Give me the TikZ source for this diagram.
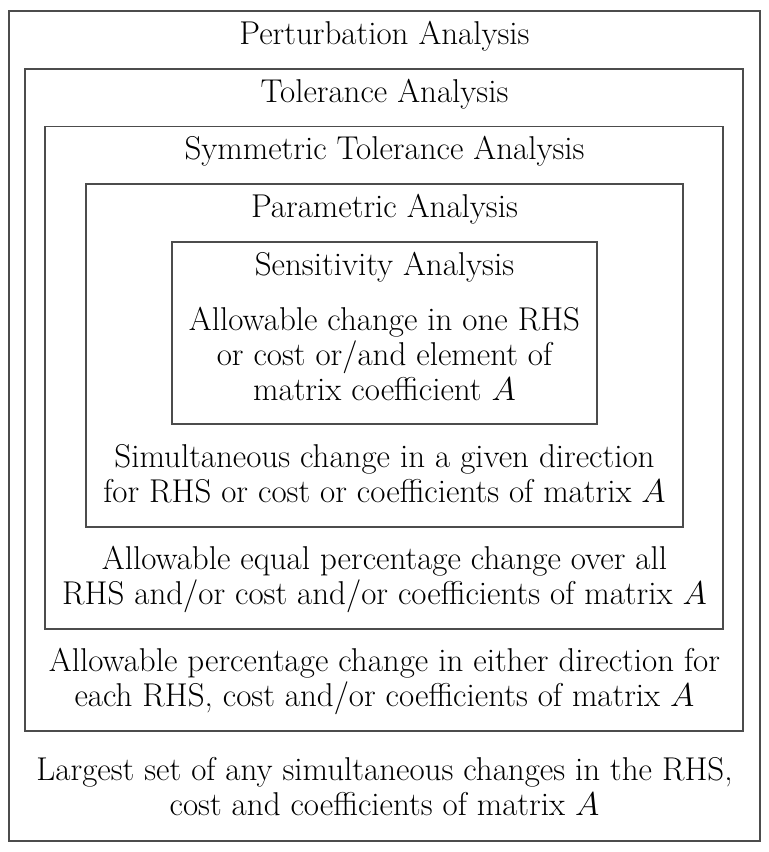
\RequirePackage{fix-cm}
\documentclass[tikz,border=0pt]{standalone}
\usepackage{fontspec}
\usepackage{tikz}
\tikzset{
  frame/.style={draw=black!70, line width=0.6pt},
  head/.style={font=\fontsize{16.5}{17.5}\selectfont, anchor=base, inner sep=0pt},
  body/.style={font=\fontsize{16.5}{17.5}\selectfont, align=center, anchor=base, inner sep=0pt},
}
\begin{document}
\begin{tikzpicture}[x=0.5pt, y=-0.5pt]
  \useasboundingbox (0,0) rectangle (769,852);
  %% nested frames, outermost first
  \draw[frame] (9,11)    rectangle (760,841);
  \draw[frame] (25,69)   rectangle (743,731);
  \draw[frame] (45,126.5) rectangle (723,629);
  \draw[frame] (86,184)  rectangle (683,527);
  \draw[frame] (172,242) rectangle (597,424);
  %% titles
  \node[head] (pert) at (384.5,44)  {Perturbation Analysis};
  \node[head] (tol)  at (384.5,102) {Tolerance Analysis};
  \node[head] (sym)  at (384.5,159.5) {Symmetric Tolerance Analysis};
  \node[head] (par)  at (384.5,217) {Parametric Analysis};
  \node[head] (sens) at (384.5,275.5) {Sensitivity Analysis};
  %% descriptions (anchored at the last line)
  \node[body] (sensd) at (384.5,400) {Allowable change in one RHS\\or cost or/and element of\\matrix coefficient $A$};
  \node[body] (pard)  at (384.5,502) {Simultaneous change in a given direction\\for RHS or cost or coefficients of matrix $A$};
  \node[body] (symd)  at (384.5,604) {Allowable equal percentage change over all\\RHS and/or cost and/or coefficients of matrix $A$};
  \node[body] (told)  at (384.5,706) {Allowable percentage change in either direction for\\each RHS, cost and/or coefficients of matrix $A$};
  \node[body] (pertd) at (384.5,815) {Largest set of any simultaneous changes in the RHS,\\cost and coefficients of matrix $A$};
\end{tikzpicture}
\end{document}
